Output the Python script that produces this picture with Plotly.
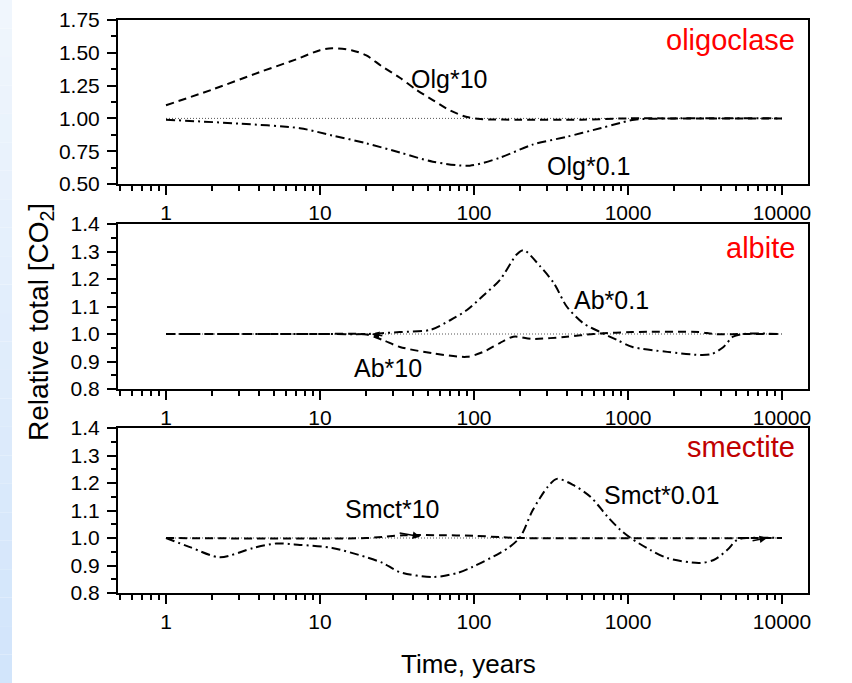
import plotly.graph_objects as go
import math

W, H = 852, 683

# ---------------- data ----------------
ref_t = [1, 10000]
ref_y = [1.0, 1.0]

olg10_t = [1, 2, 4, 7, 10, 12, 16, 20, 25, 33, 42, 54, 70, 90, 110, 200, 500, 1000, 2000, 10000]
olg10_y = [1.10, 1.22, 1.35, 1.45, 1.52, 1.535, 1.52, 1.48, 1.40, 1.31, 1.22, 1.14, 1.06, 1.01, 0.995, 0.99, 0.99, 1.0, 1.0, 1.0]

olg01_t = [1, 3, 7.4, 12, 20, 33, 54, 94, 147, 240, 400, 660, 890, 1100, 2000, 10000]
olg01_y = [0.99, 0.96, 0.925, 0.87, 0.81, 0.74, 0.67, 0.64, 0.70, 0.80, 0.86, 0.925, 0.965, 0.99, 1.0, 1.0]

ab01_t = [1, 10, 20, 33, 52, 70, 90, 115, 147, 190, 210, 270, 330, 400, 510, 660, 850, 1070, 1800, 2900, 3500, 4170, 4800, 5600, 10000]
ab01_y = [1.0, 1.0, 1.0, 1.007, 1.015, 1.05, 1.087, 1.14, 1.196, 1.29, 1.305, 1.245, 1.185, 1.10, 1.04, 1.007, 0.978, 0.953, 0.935, 0.924, 0.927, 0.953, 0.99, 1.0, 1.0]

ab10_t = [1, 10, 20, 25.6, 33, 54, 90, 115, 147, 180, 240, 400, 600, 1070, 2900, 3600, 6000, 10000]
ab10_y = [1.0, 1.0, 0.998, 0.978, 0.953, 0.93, 0.917, 0.935, 0.967, 0.99, 0.982, 0.99, 1.0, 1.007, 1.007, 1.0, 1.0, 1.0]

smct001_t = [1, 1.43, 2.24, 3.7, 5.2, 7.4, 12, 20, 25.6, 33, 54, 78, 98, 147, 170, 200, 240, 300, 345, 440, 570, 730, 890, 1040, 1400, 1800, 2900, 3600, 4400, 5100, 6000, 10000]
smct001_y = [1.0, 0.967, 0.93, 0.964, 0.98, 0.975, 0.964, 0.93, 0.909, 0.876, 0.858, 0.873, 0.895, 0.945, 0.967, 1.004, 1.10, 1.185, 1.215, 1.193, 1.15, 1.08, 1.03, 1.0, 0.956, 0.927, 0.909, 0.92, 0.956, 0.993, 1.0, 1.0]

smct10_t = [1, 20, 35, 60, 100, 150, 200, 10000]
smct10_y = [1.0, 1.0, 1.01, 1.01, 1.008, 1.003, 1.0, 1.0]

x_ticks = [1, 10, 100, 1000, 10000]
x_ticktext = ["1", "10", "100", "1000", "10000"]
y1_ticks = [0.50, 0.75, 1.00, 1.25, 1.50, 1.75]
y23_ticks = [0.8, 0.9, 1.0, 1.1, 1.2, 1.3, 1.4]

# ---------------- layout helpers ----------------
def px(xp):
    return xp / W

def py(yp):
    return 1 - yp / H

FONT = "Liberation Sans, Arial, sans-serif"
DASH = "8px,5px"
DASHDOT = "9px,4px,2px,4px"
REFDOT = "1px,2px"

fig = go.Figure()

panels = [
    (1, [(olg10_t, olg10_y, DASH), (olg01_t, olg01_y, DASHDOT)]),
    (2, [(ab10_t, ab10_y, DASH), (ab01_t, ab01_y, DASHDOT)]),
    (3, [(smct10_t, smct10_y, DASH), (smct001_t, smct001_y, DASHDOT)]),
]

for i, series in panels:
    xa = "x" if i == 1 else f"x{i}"
    ya = "y" if i == 1 else f"y{i}"
    fig.add_trace(go.Scatter(x=ref_t, y=ref_y, mode="lines", xaxis=xa, yaxis=ya,
                             line=dict(color="#555555", width=1, dash=REFDOT), showlegend=False))
    for t, v, d in series:
        fig.add_trace(go.Scatter(x=t, y=v, mode="lines", xaxis=xa, yaxis=ya,
                                 line=dict(color="black", width=2, dash=d, shape="spline", smoothing=0.8),
                                 showlegend=False))

x_minor = []
for dec in [0.1, 1, 10, 100, 1000]:
    for k in range(2, 10):
        v = dec * k
        if 0.49 < v < 10000:
            x_minor.append(v)

xdom = [px(118), px(808)]
ydoms = {1: [py(184), py(20)], 2: [py(389), py(224)], 3: [py(593), py(428)]}
xrange_ = [-0.3117, 4.1688]

axis_common = dict(showline=True, linecolor="black", linewidth=2, mirror=True, automargin=False,
                   ticks="outside", tickwidth=2, tickcolor="black", showgrid=False, zeroline=False,
                   tickfont=dict(family=FONT, size=21, color="black"))

layout = dict(width=W, height=H, margin=dict(l=0, r=0, t=0, b=0, pad=0), template="none",
              paper_bgcolor="white", plot_bgcolor="white", showlegend=False)

for i in (1, 2, 3):
    xk = "xaxis" if i == 1 else f"xaxis{i}"
    yk = "yaxis" if i == 1 else f"yaxis{i}"
    ya = "y" if i == 1 else f"y{i}"
    xa = "x" if i == 1 else f"x{i}"
    layout[xk] = dict(axis_common, type="log", domain=xdom, range=xrange_, anchor=ya,
                      tickmode="array", tickvals=x_ticks, ticktext=x_ticktext, ticklen=9,
                      minor=dict(tickmode="array", tickvals=x_minor, ticks="outside", ticklen=5,
                                 tickwidth=2, tickcolor="black", showgrid=False))
    if i == 1:
        ymin_tick = [round((a + b) / 2, 3) for a, b in zip(y1_ticks[:-1], y1_ticks[1:])]
        layout[yk] = dict(axis_common, domain=ydoms[i], range=[0.5, 1.75], anchor=xa,
                          tickmode="array", tickvals=y1_ticks, ticktext=[f"{v:.2f}" for v in y1_ticks],
                          ticklen=9, ticklabelstandoff=3,
                          minor=dict(tickmode="array", tickvals=ymin_tick, ticks="outside", ticklen=5,
                                     tickwidth=2, tickcolor="black", showgrid=False))
    else:
        ymin_tick = [round((a + b) / 2, 3) for a, b in zip(y23_ticks[:-1], y23_ticks[1:])]
        layout[yk] = dict(axis_common, domain=ydoms[i], range=[0.8, 1.4], anchor=xa,
                          tickmode="array", tickvals=y23_ticks, ticktext=[f"{v:.1f}" for v in y23_ticks],
                          ticklen=9, ticklabelstandoff=3,
                          minor=dict(tickmode="array", tickvals=ymin_tick, ticks="outside", ticklen=5,
                                     tickwidth=2, tickcolor="black", showgrid=False))

fig.update_layout(**layout)

# left light-blue strip (slide background)
shapes = []
nb = 24
for k in range(nb):
    f = k / (nb - 1)
    r = int(240 + (210 - 240) * f)
    g = int(246 + (229 - 246) * f)
    b = int(253 + (251 - 253) * f)
    shapes.append(dict(type="rect", xref="paper", yref="paper", x0=0, x1=px(12),
                       y0=1 - (k + 1) / nb, y1=1 - k / nb, fillcolor=f"rgb({r},{g},{b})",
                       line=dict(width=0), layer="below"))
fig.update_layout(shapes=shapes)

ann = []
def text(t, x, y, size, color="black", xanchor="left", yanchor="middle", angle=0):
    ann.append(dict(text=t, x=px(x), y=py(y), xref="paper", yref="paper", showarrow=False,
                    xanchor=xanchor, yanchor=yanchor, textangle=angle,
                    font=dict(family=FONT, size=size, color=color)))

text("oligoclase", 797, 40, 29, "#FF0000", xanchor="right")
text("albite", 797, 248, 29, "#FF0000", xanchor="right")
text("smectite", 797, 447, 29, "#C00000", xanchor="right")
text("Olg*10", 409, 79, 25)
text("Olg*0.1", 545, 166, 25)
text("Ab*0.1", 572, 300, 25)
text("Ab*10", 352, 368, 25)
text("Smct*10", 343, 509, 25)
text("Smct*0.01", 602, 495, 25)
text("Time, years", 468, 664, 26, xanchor="center")
text("Relative total [CO<sub>2</sub>]", 40, 322, 28, xanchor="center", angle=-90)

# small arrows
for xr, yr, xv, yv, axp, ayp in [("x3", "y3", math.log10(44.7), 1.005, -22, -4),
                                   ("x3", "y3", math.log10(8000), 1.0, -16, 3),
                                   ("x2", "y2", math.log10(21.7), 1.0, 12, 2)]:
    ann.append(dict(x=xv, y=yv, xref=xr, yref=yr, ax=axp, ay=ayp, showarrow=True,
                    arrowhead=2, arrowsize=1, arrowwidth=1.5, arrowcolor="black", text=""))

fig.update_layout(annotations=ann)
fig.write_html("out.html")
